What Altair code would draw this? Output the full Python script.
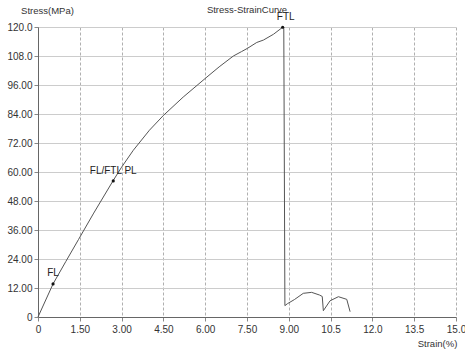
import altair as alt
import pandas as pd

strain = [0, 0.54, 1.0, 1.45, 2.0, 2.7, 3.0, 3.42, 4.0, 4.5, 5.21, 6.03, 6.5, 7.01,
          7.3, 7.52, 7.85, 8.09, 8.45, 8.78, 8.82, 8.86, 8.95, 9.2, 9.52, 9.82, 10.1,
          10.2, 10.24, 10.48, 10.78, 11.08, 11.2]
stress = [0, 13.7, 23.0, 32.0, 43.0, 56.5, 62.0, 69.0, 77.3, 83.4, 91.0, 99.0, 103.5,
          108.0, 109.8, 111.2, 113.6, 114.6, 117.0, 119.9, 119.5, 4.7, 5.5, 7.2, 9.8, 10.2, 9.1,
          8.5, 2.6, 6.7, 8.4, 7.3, 2.2]

pt_strain = [0.54, 2.70, 8.78]
pt_stress = [13.7, 56.3, 119.9]
pt_label = ["FL", "FL/FTL PL", "FTL"]
lab_dx = [0, 0, 3]
lab_dy = [-11, -10, -10]

y_ticks = [0, 12, 24, 36, 48, 60, 72, 84, 96, 108, 120]
x_ticks = [0, 1.5, 3, 4.5, 6, 7.5, 9, 10.5, 12, 13.5, 15]

curve = pd.DataFrame({"strain": strain, "stress": stress, "i": range(len(strain))})
pts = pd.DataFrame({"strain": pt_strain, "stress": pt_stress, "label": pt_label,
                    "dx": lab_dx, "dy": lab_dy})

FONT = "Liberation Sans"

xs = alt.Scale(domain=[0, 15], nice=False, zero=False)
ys = alt.Scale(domain=[0, 120], nice=False, zero=False)

x_axis = alt.Axis(values=x_ticks, tickCount=len(x_ticks), grid=True, gridDash=[3, 2],
                  gridColor="#b0b0b0",
                  labelExpr="datum.value==0?'0':(datum.value>=10?format(datum.value,'.1f'):format(datum.value,'.2f'))",
                  title="Strain(%)", titleX=399, titleY=26, titleAnchor="middle",
                  titleBaseline="middle",
                  titleFontWeight="normal", titleFontSize=9.5, titleFont=FONT, titleColor="#333",
                  labelFont=FONT, labelFontSize=10, labelColor="#333", tickSize=4,
                  tickColor="#888", domainColor="#666", labelPadding=3, labelFlush=False,
                  labelOverlap=False)
y_axis = alt.Axis(values=y_ticks, tickCount=len(y_ticks), grid=True, gridColor="#cccccc",
                  labelExpr="datum.value==0?'0':(datum.value>=100?format(datum.value,'.1f'):format(datum.value,'.2f'))",
                  title="Stress(MPa)", titleAngle=0, titleX=9, titleY=-17, titleAlign="center",
                  titleBaseline="middle", titleFontWeight="normal", titleFontSize=9.5,
                  titleFont=FONT, titleColor="#333",
                  labelFont=FONT, labelFontSize=10, labelColor="#333", tickSize=4,
                  tickColor="#888", domainColor="#666", labelPadding=2, labelOverlap=False)

line = alt.Chart(curve).mark_line(color="#555555", strokeWidth=1).encode(
    x=alt.X("strain:Q", scale=xs, axis=x_axis),
    y=alt.Y("stress:Q", scale=ys, axis=y_axis),
    order="i:Q",
)

dots = alt.Chart(pts).mark_point(filled=True, color="#111", size=10, opacity=1).encode(
    x=alt.X("strain:Q", scale=xs), y=alt.Y("stress:Q", scale=ys)
)

texts = [
    alt.Chart(pts.iloc[[k]]).mark_text(font=FONT, fontSize=10, color="#222",
                                       dx=int(lab_dx[k]), dy=int(lab_dy[k])).encode(
        x=alt.X("strain:Q", scale=xs), y=alt.Y("stress:Q", scale=ys), text="label:N")
    for k in range(len(pt_label))
]

chart = alt.layer(line, dots, *texts).properties(
    width=418, height=290,
    title=alt.TitleParams("Stress-StrainCurve", font=FONT, fontSize=9.5,
                          fontWeight="normal", color="#333", anchor="middle",
                          offset=0, dy=9),
    autosize="none",
    padding={"left": 38, "top": 27, "right": 9, "bottom": 34},
).configure_view(stroke=None)

chart.save("out.html", embed_options={"renderer": "svg", "actions": False})
